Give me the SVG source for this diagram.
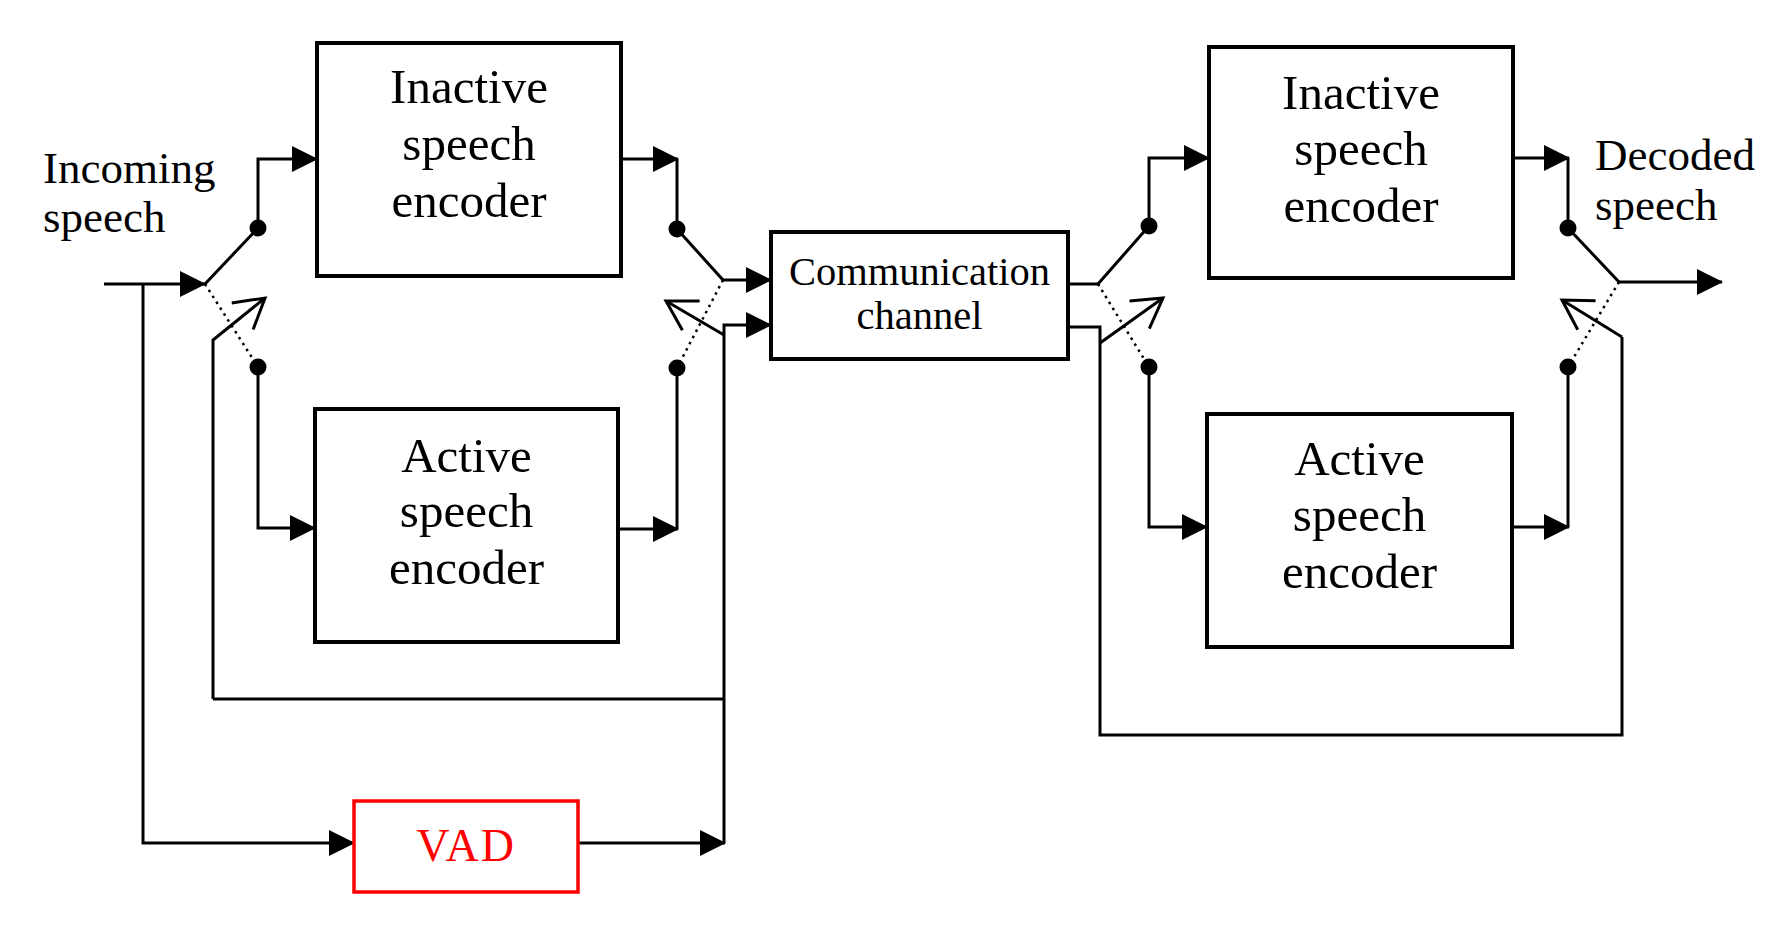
<svg xmlns="http://www.w3.org/2000/svg" width="1774" height="926" viewBox="0 0 1774 926">
<style>
.box{fill:#fff;stroke:#000;stroke-width:4}
.vad{fill:#fff;stroke:#ff0000;stroke-width:3.5}
.t{font-family:"Liberation Serif","Times New Roman",serif;fill:#000;text-anchor:middle}
.bt{font-size:49px}
.ct{font-size:40.5px}
.lbl{font-family:"Liberation Serif","Times New Roman",serif;font-size:45px;fill:#000}
.w{fill:none;stroke:#000;stroke-width:3;stroke-linejoin:miter}
.a{marker-end:url(#arr)}
.o{marker-end:url(#open)}
.dot{fill:none;stroke:#000;stroke-width:2.5;stroke-dasharray:2.5 4.5}
.jd{fill:#000}
</style>
<defs>
<marker id="arr" viewBox="0 0 26 26" markerWidth="26" markerHeight="26" refX="25" refY="13" orient="auto" markerUnits="userSpaceOnUse">
<path d="M0,0 L26,13 L0,26 Z" fill="#000"/>
</marker>
<marker id="open" viewBox="-34 -20 37 40" markerWidth="37" markerHeight="40" refX="0" refY="0" orient="auto" markerUnits="userSpaceOnUse">
<path d="M-29,-17 L0,0 L-29,17" fill="none" stroke="#000" stroke-width="3"/>
</marker>
</defs>

<g id="connectors">
<!-- input -->
<path class="w a" d="M104,284 L205,284"/>
<path class="w a" d="M143,284 L143,843 L354,843"/>
<!-- left input switch -->
<path class="w" d="M205,284 L258,228"/>
<path class="dot" d="M205,284 L258,367"/>
<path class="w a" d="M258,228 L258,159 L317,159"/>
<path class="w a" d="M258,367 L258,528 L315,528"/>
<!-- encoder outputs -->
<path class="w a" d="M621,159 L678,159"/>
<path class="w" d="M677,159 L677,229"/>
<path class="w a" d="M619,529 L678,529"/>
<path class="w" d="M677,529 L677,368"/>
<!-- left output switch -->
<path class="w" d="M677,229 L723,280"/>
<path class="dot" d="M723,280 L677,368"/>
<path class="w a" d="M723,280 L771,280"/>
<!-- VAD output and control -->
<path class="w a" d="M578,843 L725,843"/>
<path class="w a" d="M724,843 L724,325 L771,325"/>
<path class="w o" d="M724,335 L666,301"/>
<path class="w" d="M724,699 L213,699"/>
<path class="w o" d="M213,699 L213,340 L265,298"/>
<!-- channel outputs -->
<path class="w" d="M1068,284 L1098,284"/>
<path class="w" d="M1068,327 L1100,327 L1100,735 L1622,735 L1622,337"/>
<path class="w o" d="M1622,337 L1562,300"/>
<path class="w o" d="M1100,343 L1163,298"/>
<!-- right input switch -->
<path class="w" d="M1098,284 L1149,226"/>
<path class="dot" d="M1098,284 L1149,367"/>
<path class="w a" d="M1149,226 L1149,158 L1209,158"/>
<path class="w a" d="M1149,367 L1149,527 L1207,527"/>
<!-- right encoder outputs -->
<path class="w a" d="M1513,158 L1569,158"/>
<path class="w" d="M1568,158 L1568,228"/>
<path class="w a" d="M1512,527 L1569,527"/>
<path class="w" d="M1568,527 L1568,367"/>
<!-- right output switch -->
<path class="w" d="M1568,228 L1619,282"/>
<path class="dot" d="M1619,282 L1568,367"/>
<path class="w a" d="M1619,282 L1722,282"/>
<!-- contact dots -->
<circle class="jd" cx="258" cy="228" r="8.5"/>
<circle class="jd" cx="258" cy="367" r="8.5"/>
<circle class="jd" cx="677" cy="229" r="8.5"/>
<circle class="jd" cx="677" cy="368" r="8.5"/>
<circle class="jd" cx="1149" cy="226" r="8.5"/>
<circle class="jd" cx="1149" cy="367" r="8.5"/>
<circle class="jd" cx="1568" cy="228" r="8.5"/>
<circle class="jd" cx="1568" cy="367" r="8.5"/>
</g>

<g id="label-incoming">
<text class="lbl" x="43" y="183">Incoming</text>
<text class="lbl" x="43" y="232">speech</text>
</g>
<g id="label-decoded">
<text class="lbl" x="1595" y="170">Decoded</text>
<text class="lbl" x="1595" y="220">speech</text>
</g>

<g id="inactive-left">
<rect class="box" x="317" y="43" width="304" height="233"/>
<text class="t bt" x="469" y="103">Inactive</text>
<text class="t bt" x="469" y="160">speech</text>
<text class="t bt" x="469" y="217">encoder</text>
</g>
<g id="active-left">
<rect class="box" x="315" y="409" width="303" height="233"/>
<text class="t bt" x="466.5" y="472">Active</text>
<text class="t bt" x="466.5" y="527">speech</text>
<text class="t bt" x="466.5" y="584">encoder</text>
</g>
<g id="channel">
<rect class="box" x="771" y="232" width="297" height="127"/>
<text class="t ct" x="919.5" y="285">Communication</text>
<text class="t ct" x="919.5" y="329">channel</text>
</g>
<g id="inactive-right">
<rect class="box" x="1209" y="47" width="304" height="231"/>
<text class="t bt" x="1361" y="109">Inactive</text>
<text class="t bt" x="1361" y="165">speech</text>
<text class="t bt" x="1361" y="222">encoder</text>
</g>
<g id="active-right">
<rect class="box" x="1207" y="414" width="305" height="233"/>
<text class="t bt" x="1359.5" y="475">Active</text>
<text class="t bt" x="1359.5" y="531">speech</text>
<text class="t bt" x="1359.5" y="588">encoder</text>
</g>
<g id="vad">
<rect class="vad" x="354" y="801" width="224" height="91"/>
<text class="t" x="466" y="861" style="font-size:46px;letter-spacing:2px;fill:#ff0000">VAD</text>
</g>
</svg>
